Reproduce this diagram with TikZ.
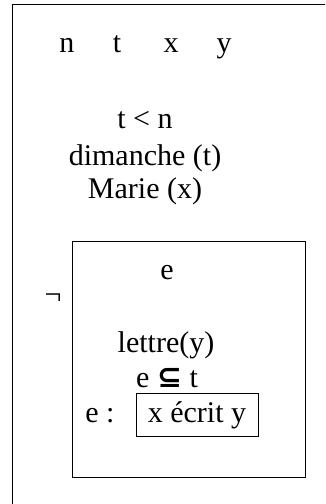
\documentclass[tikz,border=0pt]{standalone}
\usepackage{fontspec}
\setmainfont{Liberation Serif}
\newfontfamily\symfont{DejaVu Sans}
\begin{document}
\begin{tikzpicture}[x=1pt,y=-1pt,
  txt/.style={font=\fontsize{30}{32}\selectfont, inner sep=0pt, anchor=base},
  boxline/.style={draw=black, line width=1.2pt}]
\useasboundingbox (0,0) rectangle (325,504);
\clip (0,0) rectangle (325,504);
\node[boxline, minimum width=340pt, minimum height=540pt, anchor=north west, inner sep=0pt] (outer) at (12,4) {};
\node[boxline, minimum width=233pt, minimum height=236pt, anchor=north west, inner sep=0pt] (inner) at (72,241) {};
\node[boxline, line width=1pt, minimum width=122pt, minimum height=43pt, anchor=north west, inner sep=0pt] (ecrit) at (136,393) {};
% top referents
\node[txt] (n) at (67,52) {n};
\node[txt] (t) at (117,52) {t};
\node[txt] (x) at (171,52) {x};
\node[txt] (y) at (224,52) {y};
% conditions
\node[txt] (c1) at (145,128) {t < n};
\node[txt] (c2) at (145,165) {dimanche (t)};
\node[txt] (c3) at (145,198) {Marie (x)};
% negation
\node[txt] (neg) at (53,304) {¬};
% inner box
\node[txt] (e) at (167,279) {e};
\node[txt] (d1) at (166,352) {lettre(y)};
\node[txt] (d2) at (167,387) {e {\symfont\bfseries ⊆} t};
\node[txt] (d3) at (100,422) {e :};
\node[txt] (d4) at (197,422) {x écrit y};
\end{tikzpicture}
\end{document}
